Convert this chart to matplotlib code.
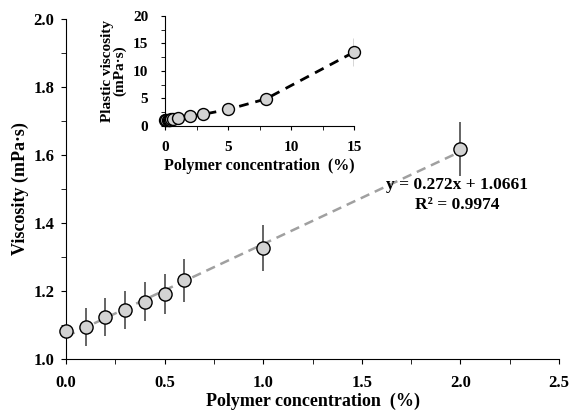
import numpy as np
import matplotlib.pyplot as plt
from matplotlib.ticker import MultipleLocator

plt.rcParams['font.family'] = ['Liberation Serif', 'DejaVu Serif']
plt.rcParams['font.weight'] = 'bold'

# main plot data
conc = [0.0, 0.1, 0.2, 0.3, 0.4, 0.5, 0.6, 1.0, 2.0]
visc = [1.082, 1.094, 1.124, 1.144, 1.169, 1.191, 1.231, 1.327, 1.618]
visc_err = [0.055, 0.055, 0.056, 0.057, 0.058, 0.06, 0.062, 0.067, 0.079]
slope, intercept = 0.272, 1.0661

# inset data
conc_in = [0.0, 0.1, 0.2, 0.3, 0.4, 0.5, 0.6, 1.0, 2.0, 3.0, 5.0, 8.0, 15.0]
pvisc = [1.08, 1.09, 1.12, 1.14, 1.17, 1.19, 1.23, 1.4, 1.8, 2.1, 3.0, 4.9, 13.4]
pvisc_err = [0, 0, 0, 0, 0, 0, 0, 0, 0, 0, 0, 0, 2.5]
line_x = [2.0, 3.0, 5.0, 8.0, 15.0]
line_y = [1.8, 2.1, 3.0, 4.9, 13.4]

fig = plt.figure(figsize=(5.7, 4.18), dpi=100)
ax = fig.add_axes([0.1158, 0.1411, 0.8649, 0.8134])

xf = np.array([0.0, 2.0])
ax.plot(xf, slope * xf + intercept, '--', color='#a0a0a0', lw=1.8, dashes=(3.8, 2.4), zorder=1)
ax.errorbar(conc, visc, yerr=visc_err, fmt='none', ecolor='#3a3a3a', elinewidth=1.1, zorder=2)
ax.plot(conc, visc, 'o', ms=9.5, mfc='#d3d3d3', mec='black', mew=1, zorder=3, clip_on=False)

ax.set_xlim(0, 2.5)
ax.set_ylim(1.0, 2.0)
ax.xaxis.set_major_locator(MultipleLocator(0.5))
ax.xaxis.set_minor_locator(MultipleLocator(0.25))
ax.yaxis.set_major_locator(MultipleLocator(0.2))
ax.yaxis.set_minor_locator(MultipleLocator(0.1))
ax.set_xticks([0, 0.5, 1.0, 1.5, 2.0, 2.5])
ax.set_xticklabels(['0.0', '0.5', '1.0', '1.5', '2.0', '2.5'])
ax.tick_params(which='both', direction='out', labelsize=12, length=3.5)
ax.tick_params(axis='x', pad=8)
ax.tick_params(axis='y', pad=5)
for s in ['top', 'right']:
    ax.spines[s].set_visible(False)
ax.set_xlabel('Polymer concentration  (%)', fontsize=13, fontweight='bold', labelpad=1)
ax.set_ylabel('Viscosity (mPa·s)', fontsize=13, fontweight='bold', labelpad=3)
ax.text(1.983, 1.512, 'y = 0.272x + 1.0661', ha='center', va='center', fontsize=12.5, fontweight='bold')
ax.text(1.983, 1.452, 'R² = 0.9974', ha='center', va='center', fontsize=12.5, fontweight='bold')

# inset
axi = fig.add_axes([0.2895, 0.6986, 0.3316, 0.2638])
axi.plot(line_x, line_y, '--', color='black', lw=2, dashes=(3.5, 2.5), zorder=1)
axi.errorbar(conc_in, pvisc, yerr=pvisc_err, fmt='none', ecolor='#333333', elinewidth=1, zorder=2)
axi.plot(conc_in, pvisc, 'o', ms=8.6, mfc='#d3d3d3', mec='black', mew=1, zorder=3, clip_on=False)
axi.set_xlim(0, 15)
axi.set_ylim(0, 20)
axi.xaxis.set_major_locator(MultipleLocator(5))
axi.xaxis.set_minor_locator(MultipleLocator(2.5))
axi.yaxis.set_major_locator(MultipleLocator(5))
axi.yaxis.set_minor_locator(MultipleLocator(2.5))
axi.tick_params(which='both', direction='out', labelsize=11, length=3)
axi.tick_params(axis='x', pad=8)
axi.tick_params(axis='y', pad=9)
for s in ['top', 'right']:
    axi.spines[s].set_visible(False)
axi.set_xlabel('Polymer concentration  (%)', fontsize=11.5, fontweight='bold', labelpad=3)
axi.set_ylabel('Plastic viscosity\n(mPa·s)', fontsize=11, fontweight='bold', labelpad=5, linespacing=0.85)

fig.savefig('out.png', dpi=100)
